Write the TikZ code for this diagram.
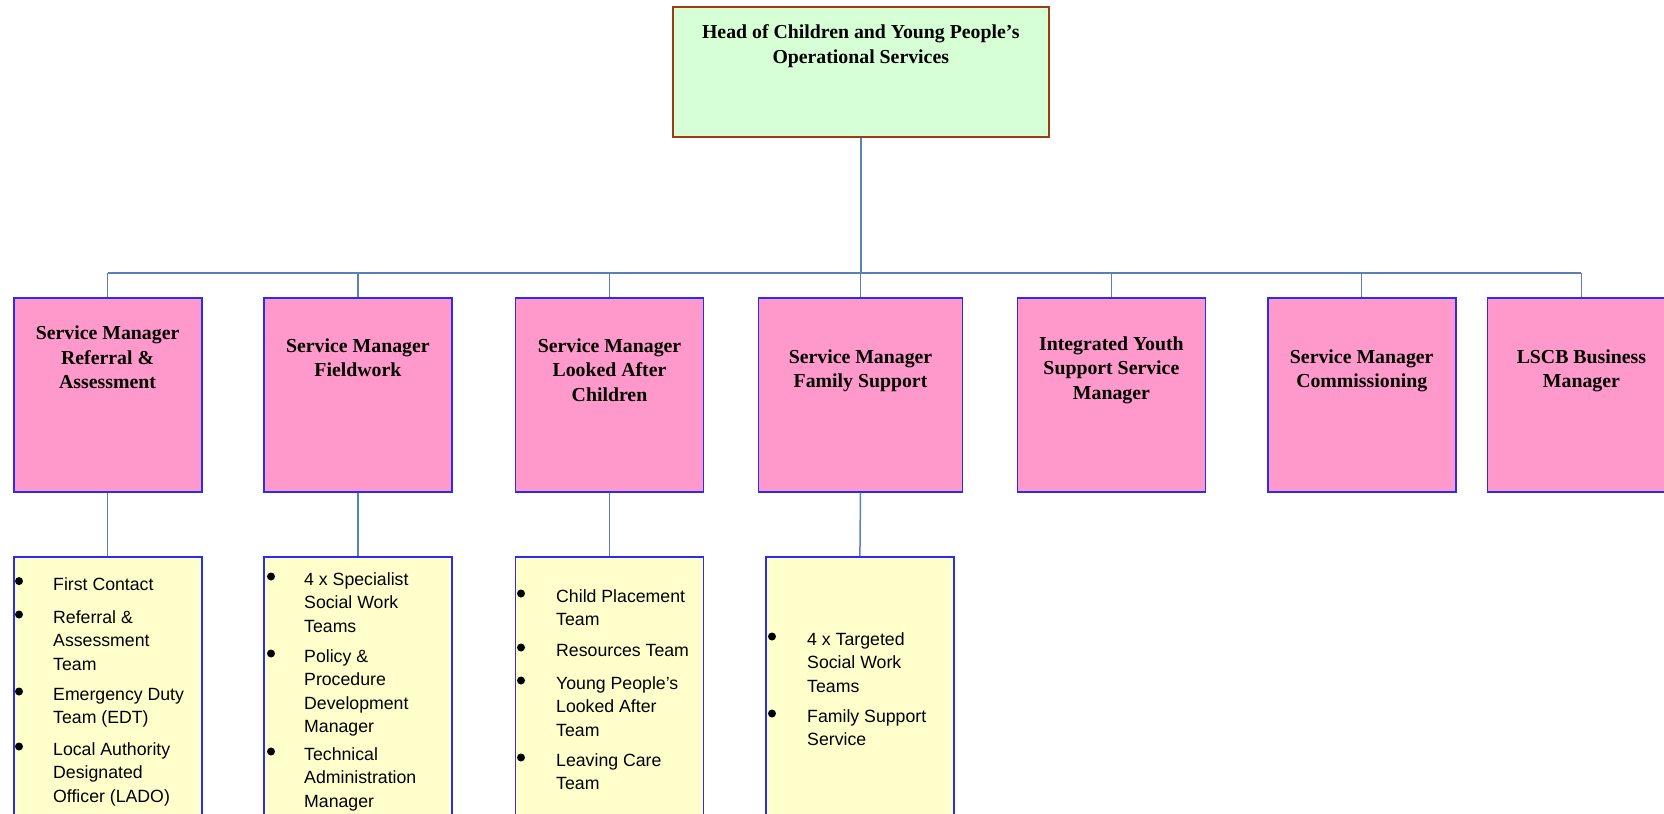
\documentclass[tikz,border=0pt]{standalone}
\usepackage{fontspec}
\setmainfont{Liberation Serif}
\newfontfamily\arialfont{Liberation Sans}
\usetikzlibrary{calc}
\definecolor{headfill}{HTML}{D6FFD6}
\definecolor{headborder}{HTML}{9E3A14}
\definecolor{pinkfill}{HTML}{FF99CC}
\definecolor{boxblue}{HTML}{2B2BF2}
\definecolor{yellowfill}{HTML}{FFFFCC}
\definecolor{linkblue}{HTML}{5A80B8}
\newcommand\orgitem[5]{%
  \fill (#2,#4-2.5) circle (4bp);
  \node[itemtext, anchor=north west] (#1) at (#3,#4-7.1) {\rule{0pt}{13.5bp}#5};}
\begin{document}
\begin{tikzpicture}[x=1bp,y=-1bp,
  headbox/.style={draw=headborder, fill=headfill, line width=2bp, minimum width=376.5bp, minimum height=130bp, anchor=north west, inner sep=0pt},
  pinkbox/.style={draw=boxblue, fill=pinkfill, line width=1.8bp, minimum width=188bp, minimum height=194bp, anchor=north west, inner sep=0pt},
  yellowbox/.style={draw=boxblue, fill=yellowfill, line width=1.8bp, minimum width=188bp, minimum height=320bp, anchor=north west, inner sep=0pt},
  titletext/.style={font=\fontsize{19.8bp}{24.4bp}\selectfont\bfseries, align=center, inner sep=0pt},
  itemtext/.style={font=\arialfont\fontsize{17.7bp}{23.3bp}\selectfont, align=left, inner sep=0pt},
  link/.style={draw=linkblue, line width=1.5bp}]
\useasboundingbox (0,0) rectangle (1664,814);
\clip (0,0) rectangle (1664,814);
\fill[white] (0,0) rectangle (1664,814);

% head
\node[headbox] (head) at (671.5,6) {};
\node[titletext, font=\fontsize{19.8bp}{25.5bp}\selectfont\bfseries] (headtxt) at ($(head.north)+(0,40)$) {Head of Children and Young People’s\\Operational Services};

% managers
\node[pinkbox] (p1) at (12.7,297) {};
\node[pinkbox] (p2) at (263,297) {};
\node[pinkbox] (p3) at (514.6,297) {};
\node[pinkbox, minimum width=204bp] (p4) at (757.6,297) {};
\node[pinkbox] (p5) at (1016.5,297) {};
\node[pinkbox] (p6) at (1266.8,297) {};
\node[pinkbox] (p7) at (1486.5,297) {};

\node[titletext] (t1) at ($(p1.north)+(0,60.5)$) {Service Manager\\Referral \&\\Assessment};
\node[titletext] (t2) at ($(p2.north)+(0,61)$) {Service Manager\\Fieldwork};
\node[titletext] (t3) at ($(p3.north)+(0,73)$) {Service Manager\\Looked After\\Children};
\node[titletext] (t4) at ($(p4.north)+(0,74)$) {Service Manager\\Family Support};
\node[titletext] (t5) at ($(p5.north)+(0,73)$) {Integrated Youth\\Support Service\\Manager};
\node[titletext] (t6) at ($(p6.north)+(0,74)$) {Service Manager\\Commissioning};
\node[titletext] (t7) at ($(p7.north)+(0,74)$) {LSCB Business\\Manager};

% team boxes
\node[yellowbox] (y1) at (12.7,556) {};
\node[yellowbox] (y2) at (263,556) {};
\node[yellowbox] (y3) at (514.6,556) {};
\node[yellowbox] (y4) at (765,556) {};

% connectors
\coordinate (bus) at (0,273);
\draw[link] (head.south) -- (head.south |- bus);
\draw[link] (p1.north |- bus) -- (p7.north |- bus);
\foreach \n in {p1,p2,p3,p4,p5,p6,p7}{\draw[link] (\n.north) -- (\n.north |- bus);}
\draw[link] (p1.south) -- (y1.north);
\draw[link] (p2.south) -- (y2.north);
\draw[link] (p3.south) -- (y3.north);
\draw[link] (p4.south) -- (y4.north);

% items
\orgitem{i11}{19}{53}{583.6}{First Contact}
\orgitem{i12}{19}{53}{617}{Referral \&\\Assessment\\Team}
\orgitem{i13}{19}{53}{694}{Emergency Duty\\Team (EDT)}
\orgitem{i14}{19}{53}{749}{Local Authority\\Designated\\Officer (LADO)}

\orgitem{i21}{271}{304}{579}{4 x Specialist\\Social Work\\Teams}
\orgitem{i22}{271}{304}{656}{Policy \&\\Procedure\\Development\\Manager}
\orgitem{i23}{271}{304}{754}{Technical\\Administration\\Manager}

\orgitem{i31}{521}{556}{596}{Child Placement\\Team}
\orgitem{i32}{521}{556}{650}{Resources Team}
\orgitem{i33}{521}{556}{683}{Young People’s\\Looked After\\Team}
\orgitem{i34}{521}{556}{760}{Leaving Care\\Team}

\orgitem{i41}{772}{807}{639}{4 x Targeted\\Social Work\\Teams}
\orgitem{i42}{772}{807}{716}{Family Support\\Service}
\end{tikzpicture}
\end{document}
